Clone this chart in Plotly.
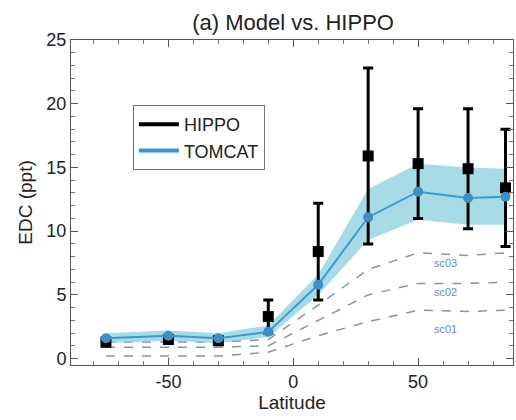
import plotly.graph_objects as go

lat = [-75, -50, -30, -10, 10, 30, 50, 70, 85]
hippo = [1.3, 1.5, 1.4, 3.3, 8.4, 15.9, 15.3, 14.9, 13.4]
hippo_err = [0.3, 0.3, 0.3, 1.3, 3.8, 6.9, 4.3, 4.7, 4.6]
tomcat = [1.6, 1.8, 1.6, 2.1, 5.8, 11.1, 13.1, 12.6, 12.7]
tomcat_hi = [2.0, 2.2, 2.0, 2.6, 6.6, 13.3, 15.3, 15.0, 14.9]
tomcat_lo = [1.2, 1.4, 1.2, 1.7, 5.0, 9.3, 10.9, 10.5, 10.5]
sc03 = [1.3, 1.3, 1.3, 1.5, 4.2, 7.0, 8.3, 8.1, 8.3]
sc02 = [0.9, 0.9, 0.9, 1.0, 3.0, 5.0, 5.9, 5.9, 6.0]
sc01 = [0.2, 0.2, 0.2, 0.5, 1.8, 2.9, 3.8, 3.7, 3.8]
sc_names = ["sc03", "sc02", "sc01"]
sc_label_y = [7.5, 5.2, 2.3]
sc_label_x = 61
x_tickvals = [-50, 0, 50]
x_ticktext = ["-50", "0", "50"]

font = "Liberation Sans, Arial, sans-serif"
fig = go.Figure()

for s in [sc03, sc02, sc01]:
    fig.add_trace(go.Scatter(x=lat, y=s, mode="lines",
                             line=dict(color="#8a93a6", width=1.5, dash="dash"),
                             showlegend=False, hoverinfo="skip"))

fig.add_trace(go.Scatter(x=lat, y=tomcat_hi, mode="lines", line=dict(width=0, color="rgba(0,0,0,0)"),
                         showlegend=False, hoverinfo="skip"))
fig.add_trace(go.Scatter(x=lat, y=tomcat_lo, mode="lines", line=dict(width=0, color="rgba(0,0,0,0)"),
                         fill="tonexty", fillcolor="rgba(130,205,220,0.7)",
                         showlegend=False, hoverinfo="skip"))

fig.add_trace(go.Scatter(x=lat, y=hippo, mode="markers", name="HIPPO",
                         marker=dict(symbol="square", size=11, color="black"),
                         error_y=dict(type="data", array=hippo_err, color="black", thickness=3, width=5),
                         showlegend=False))
fig.add_trace(go.Scatter(x=lat, y=tomcat, mode="lines+markers", name="TOMCAT",
                         line=dict(color="#3a9ad0", width=2),
                         marker=dict(symbol="circle", size=10, color="#3d8fc4"),
                         showlegend=False))

# legend entries
fig.add_trace(go.Scatter(x=[None], y=[None], mode="lines", name="HIPPO",
                         line=dict(color="black", width=4)))
fig.add_trace(go.Scatter(x=[None], y=[None], mode="lines", name="TOMCAT",
                         line=dict(color="#3a8fe0", width=4)))

for n, yv in zip(sc_names, sc_label_y):
    fig.add_annotation(x=sc_label_x, y=yv, text=n, showarrow=False,
                       font=dict(family=font, size=11, color="#5a8ee0"))

axis_common = dict(showgrid=False, zeroline=False, showline=True, linecolor="#555",
                   linewidth=1, mirror="allticks", ticks="inside", ticklen=7,
                   tickcolor="#555", tickfont=dict(family=font, size=18, color="#222"))

fig.update_xaxes(range=[-89, 88], tickvals=x_tickvals, ticktext=x_ticktext,
                 minor=dict(ticks="inside", ticklen=4, dtick=10, tick0=0, tickcolor="#777"),
                 title=dict(text="Latitude", font=dict(family=font, size=19, color="#222"), standoff=2),
                 **axis_common)
fig.update_yaxes(range=[-0.5, 25], tick0=0, dtick=5,
                 minor=dict(ticks="inside", ticklen=4, dtick=1, tick0=0, tickcolor="#777"),
                 title=dict(text="EDC (ppt)", font=dict(family=font, size=19, color="#222"), standoff=8),
                 **axis_common)

fig.update_layout(
    width=516, height=420,
    margin=dict(l=71, r=3, t=40, b=55),
    paper_bgcolor="white", plot_bgcolor="white",
    title=dict(text="(a) Model vs. HIPPO", x=0.568, xanchor="center", y=0.948, yanchor="middle",
               font=dict(family=font, size=22, color="#222")),
    legend=dict(x=0.14, y=0.80, xanchor="left", yanchor="top", traceorder="normal",
                bordercolor="#777", borderwidth=1, bgcolor="white",
                font=dict(family=font, size=18, color="#222"),
                tracegroupgap=0, itemwidth=40),
    showlegend=True,
)

fig.write_html("out.html")
